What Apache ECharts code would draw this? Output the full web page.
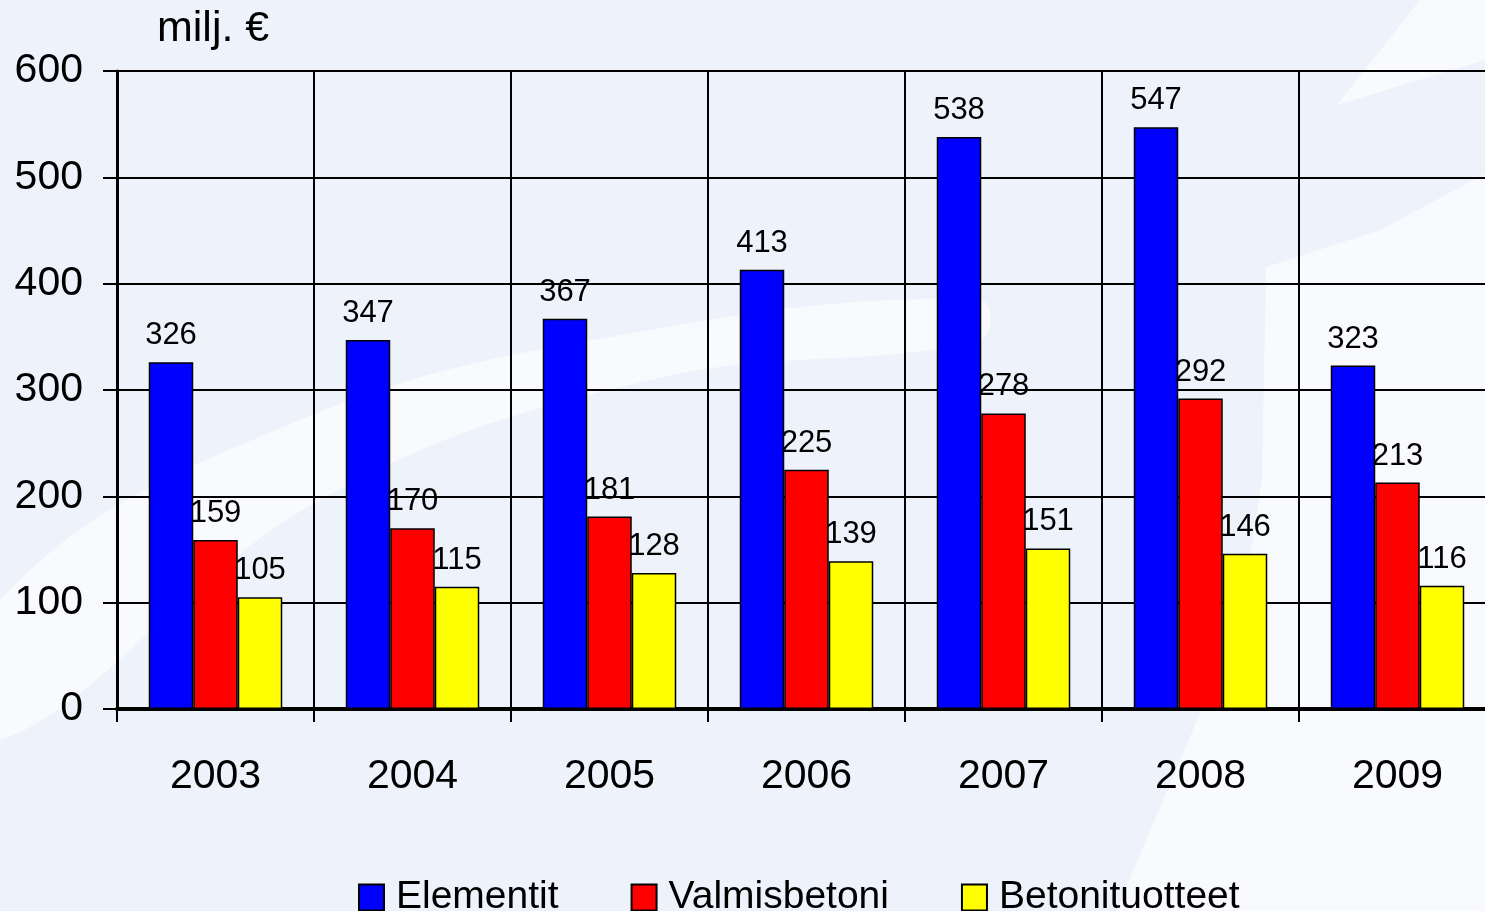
<!DOCTYPE html>
<html>
<head>
<meta charset="utf-8">
<script src="https://cdn.jsdelivr.net/npm/echarts@6/dist/echarts.min.js"></script>
<style>
  html, body { margin: 0; padding: 0; background: #eef2fa; }
  #main { width: 1485px; height: 911px; }
</style>
</head>
<body>
<div id="main"></div>
<script>
// data
var years = ['2003', '2004', '2005', '2006', '2007', '2008', '2009'];
var elementit = [326, 347, 367, 413, 538, 547, 323];
var valmisbetoni = [159, 170, 181, 225, 278, 292, 213];
var betonituotteet = [105, 115, 128, 139, 151, 146, 116];
var yTicks = [0, 100, 200, 300, 400, 500, 600];

var font = 'Liberation Sans, Arial, sans-serif';

function barSeries(name, data, color) {
    return {
        name: name,
        type: 'bar',
        data: data,
        barWidth: 44.5,
        barGap: '0%',
        itemStyle: { color: color, borderColor: '#000', borderWidth: 1.5 },
        label: {
            show: true,
            position: 'top',
            distance: 11,
            color: '#000',
            fontFamily: font,
            fontSize: 31
        }
    };
}

// light swooshes of the slide background
var swoosh = { fill: 'rgba(255,255,255,0.6)' };

var chart = echarts.init(document.getElementById('main'));
var option = {
    backgroundColor: '#eef2fa',
    animation: false,
    graphic: [
        { type: 'polygon', z: -10, silent: true, shape: { smooth: 0.4, points: [[0, 600], [300, 420], [650, 330], [980, 300], [980, 340], [650, 380], [320, 500], [0, 740]] }, style: swoosh },
        { type: 'polygon', z: -10, silent: true, shape: { points: [[1266, 267], [1380, 230], [1485, 174], [1485, 911], [1116, 911], [1180, 760], [1240, 620], [1262, 480]] }, style: swoosh },
        { type: 'polygon', z: -10, silent: true, shape: { points: [[1337, 105], [1420, 0], [1485, 0], [1485, 60]] }, style: swoosh }
    ],
    title: {
        text: 'milj. €',
        left: 152,
        top: 3,
        textStyle: { fontFamily: font, fontSize: 43, fontWeight: 'normal', color: '#000' }
    },
    legend: {
        left: 353,
        top: 873,
        icon: 'rect',
        itemWidth: 25,
        itemHeight: 26,
        itemGap: 72,
        itemStyle: { borderColor: '#000', borderWidth: 2 },
        textStyle: { fontFamily: font, fontSize: 39, color: '#000', padding: [0, 0, 0, 7] },
        data: ['Elementit', 'Valmisbetoni', 'Betonituotteet']
    },
    grid: {
        left: 117,
        top: 71,
        width: 1379,
        bottom: 202,
        containLabel: false,
        outerBoundsMode: 'none'
    },
    xAxis: {
        type: 'category',
        data: years,
        axisLine: { lineStyle: { color: '#000', width: 4 } },
        axisTick: { show: true, length: 13, lineStyle: { color: '#000', width: 2 } },
        splitLine: { show: true, interval: 0, lineStyle: { color: '#000', width: 2 } },
        axisLabel: { fontFamily: font, fontSize: 41, color: '#000', margin: 47 }
    },
    yAxis: {
        type: 'value',
        min: yTicks[0],
        max: yTicks[yTicks.length - 1],
        interval: 100,
        axisLine: { show: true, lineStyle: { color: '#000', width: 3 } },
        axisTick: { show: true, length: 14, lineStyle: { color: '#000', width: 2 } },
        splitLine: { show: true, lineStyle: { color: '#000', width: 2 } },
        axisLabel: { fontFamily: font, fontSize: 41, color: '#000', margin: 34 }
    },
    series: [
        barSeries('Elementit', elementit, '#0000ff'),
        barSeries('Valmisbetoni', valmisbetoni, '#ff0000'),
        barSeries('Betonituotteet', betonituotteet, '#ffff00')
    ]
};
chart.setOption(option);
</script>
</body>
</html>
